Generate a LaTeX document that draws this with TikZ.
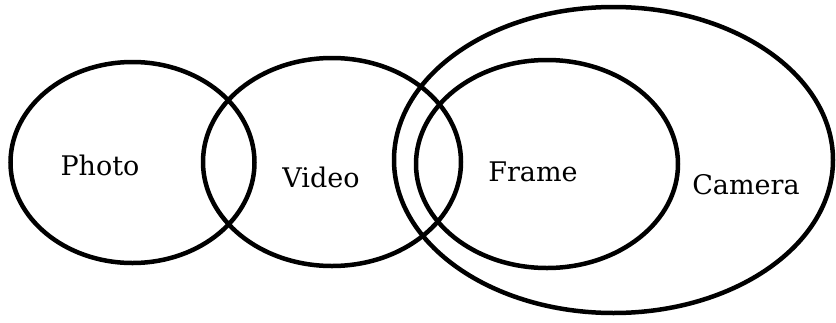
\documentclass[tikz,border=0pt]{standalone}
\usepackage{fontspec}
\setmainfont{DejaVu Serif}
\usetikzlibrary{shapes.geometric}
\begin{document}
\begin{tikzpicture}[x=1pt,y=-1pt,
  setring/.style={draw=black, line width=4.5pt, ellipse, inner sep=0pt, outer sep=0pt},
  setlabel/.style={anchor=base, font=\fontsize{27}{32}\selectfont, text=black, inner sep=0pt}]
\useasboundingbox[fill=white] (0,0) rectangle (836,322);
\node[setring, minimum width=244pt, minimum height=201pt] (photo) at (132.5,162.5) {};
\node[setring, minimum width=258pt, minimum height=208pt] (video) at (332,162) {};
\node[setring, minimum width=262pt, minimum height=208pt] (frame) at (547,164) {};
\node[setring, minimum width=439pt, minimum height=306pt] (camera) at (613.5,160) {};
\node[setlabel] (tphoto) at (100,175) {Photo};
\node[setlabel] (tvideo) at (321,187) {Video};
\node[setlabel] (tframe) at (533,181) {Frame};
\node[setlabel] (tcamera) at (746,194) {Camera};
\end{tikzpicture}
\end{document}
